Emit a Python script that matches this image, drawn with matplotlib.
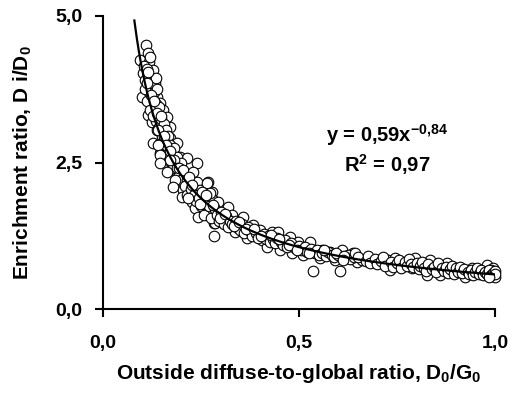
import matplotlib
matplotlib.use("Agg")
import matplotlib.pyplot as plt
import numpy as np

plt.rcParams['font.family'] = ['Liberation Sans', 'DejaVu Sans']
plt.rcParams['font.weight'] = 'bold'
plt.rcParams['mathtext.fontset'] = 'custom'
plt.rcParams['mathtext.rm'] = 'Liberation Sans:bold'
plt.rcParams['mathtext.bf'] = 'Liberation Sans:bold'
plt.rcParams['mathtext.it'] = 'Liberation Sans:bold'
plt.rcParams['mathtext.default'] = 'rm'

# ---- data ----
x_steep = [0.110, 0.115, 0.094, 0.117, 0.128, 0.102, 0.115, 0.133, 0.120, 0.099,
           0.138, 0.125, 0.145, 0.128, 0.153, 0.115, 0.140, 0.125, 0.163, 0.150,
           0.171, 0.138, 0.153, 0.128, 0.145, 0.171, 0.189, 0.145, 0.163, 0.179,
           0.196, 0.214, 0.105, 0.108, 0.112, 0.118, 0.122, 0.124, 0.130, 0.132,
           0.135, 0.136, 0.142, 0.143, 0.147, 0.150, 0.155, 0.157, 0.160, 0.158,
           0.165, 0.167, 0.168, 0.172, 0.175, 0.177, 0.182, 0.185, 0.186, 0.190,
           0.193, 0.198, 0.200, 0.113, 0.119, 0.107, 0.121, 0.126, 0.134, 0.139,
           0.111, 0.116, 0.123, 0.127, 0.131, 0.137, 0.141, 0.148, 0.152, 0.156,
           0.161, 0.166, 0.170, 0.174, 0.178, 0.181, 0.188, 0.192, 0.195, 0.199]
y_steep = [4.50, 4.37, 4.25, 4.22, 4.08, 4.03, 3.96, 3.86, 3.79, 3.62,
           3.62, 3.57, 3.52, 3.45, 3.40, 3.31, 3.31, 3.19, 3.28, 3.17,
           3.11, 3.05, 3.00, 2.83, 2.83, 2.92, 2.83, 2.66, 2.66, 2.68,
           2.59, 2.58, 4.15, 3.90, 4.10, 3.70, 3.95, 3.60, 3.70, 3.40,
           3.50, 3.20, 3.45, 3.10, 3.25, 2.95, 3.15, 2.80, 3.05, 2.90,
           2.95, 2.75, 2.55, 2.80, 2.45, 2.65, 2.75, 2.50, 2.35, 2.60,
           2.45, 2.30, 2.50, 3.55, 3.40, 3.75, 4.30, 3.85, 3.95, 3.75,
           3.85, 4.05, 3.65, 3.30, 3.55, 3.35, 3.05, 3.30, 2.85, 2.95,
           2.80, 2.60, 2.70, 2.55, 2.40, 2.55, 2.40, 2.25, 2.40, 2.20]

x_mid = [0.140, 0.145, 0.171, 0.240, 0.145, 0.163, 0.204, 0.230, 0.184, 0.214,
         0.240, 0.268, 0.179, 0.204, 0.247, 0.278, 0.201, 0.227, 0.255, 0.281,
         0.235, 0.265, 0.242, 0.273, 0.283, 0.283, 0.265, 0.273, 0.293, 0.265,
         0.319, 0.329, 0.286, 0.306, 0.357, 0.383, 0.337, 0.367, 0.406, 0.431,
         0.446, 0.418, 0.452, 0.477, 0.497, 0.528, 0.482, 0.510, 0.559, 0.579,
         0.610, 0.554, 0.592, 0.638, 0.648, 0.536, 0.605,
         0.210, 0.220, 0.215, 0.225, 0.232, 0.238, 0.245, 0.250, 0.252, 0.258,
         0.260, 0.270, 0.275, 0.285, 0.290, 0.295, 0.300, 0.310, 0.315, 0.320,
         0.325, 0.330, 0.340, 0.345, 0.350, 0.355, 0.360, 0.370, 0.375, 0.380,
         0.390, 0.395, 0.400, 0.410, 0.415, 0.420, 0.425, 0.435, 0.440, 0.445,
         0.455, 0.460, 0.465, 0.470, 0.480, 0.490, 0.500, 0.505, 0.515, 0.520,
         0.530, 0.540, 0.545, 0.550, 0.560, 0.570, 0.575, 0.585, 0.590, 0.600,
         0.620, 0.625, 0.630, 0.640,
         0.218, 0.228, 0.248, 0.262, 0.280, 0.298, 0.312, 0.335, 0.348, 0.365,
         0.385, 0.402, 0.428, 0.450, 0.475, 0.495, 0.525, 0.565, 0.595, 0.615]
y_mid = [2.80, 2.63, 2.54, 2.49, 2.49, 2.34, 2.37, 2.34, 2.20, 2.20,
         2.17, 2.17, 2.08, 2.03, 2.03, 2.00, 1.91, 1.83, 1.86, 1.86,
         1.72, 1.69, 1.57, 1.64, 1.47, 1.25, 2.15, 1.98, 1.83, 1.66,
         1.74, 1.60, 1.47, 1.52, 1.57, 1.43, 1.31, 1.21, 1.18, 1.31,
         1.31, 1.06, 1.01, 1.23, 1.14, 1.14, 0.96, 0.92, 1.01, 0.97,
         1.01, 0.87, 0.84, 0.96, 0.80, 0.65, 0.65,
         2.10, 2.25, 1.95, 2.05, 1.95, 1.85, 1.90, 1.75, 2.00, 1.60,
         1.80, 1.75, 1.55, 1.70, 1.60, 1.50, 1.65, 1.45, 1.58, 1.40,
         1.50, 1.45, 1.50, 1.38, 1.35, 1.45, 1.30, 1.40, 1.33, 1.25,
         1.30, 1.22, 1.35, 1.28, 1.20, 1.25, 1.15, 1.20, 1.12, 1.22,
         1.15, 1.10, 1.18, 1.05, 1.12, 1.04, 1.08, 1.00, 1.05, 0.98,
         1.02, 0.95, 1.00, 0.93, 0.95, 0.90, 0.98, 0.92, 0.88, 0.93,
         0.88, 0.93, 0.85, 0.88,
         1.90, 2.12, 1.80, 1.95, 1.78, 1.55, 1.62, 1.42, 1.48, 1.36,
         1.36, 1.24, 1.26, 1.20, 1.10, 1.00, 0.96, 1.00, 0.95, 0.90]

x_tail = [0.612, 0.643, 0.660, 0.689, 0.727, 0.745, 0.732, 0.765, 0.796, 0.788,
          0.834, 0.852, 0.827, 0.860, 0.878, 0.898, 0.923, 0.941, 0.980, 0.992,
          1.000, 0.995, 0.990,
          0.650, 0.670, 0.675, 0.680, 0.695, 0.700, 0.710, 0.715, 0.720, 0.735,
          0.740, 0.750, 0.755, 0.760, 0.770, 0.775, 0.780, 0.785, 0.790, 0.800,
          0.805, 0.810, 0.815, 0.820, 0.825, 0.830, 0.840, 0.845, 0.850, 0.855,
          0.865, 0.870, 0.875, 0.880, 0.885, 0.890, 0.895, 0.900, 0.905, 0.910,
          0.915, 0.920, 0.930, 0.935, 0.940, 0.945, 0.950, 0.955, 0.960, 0.965,
          0.970, 0.975, 0.980, 0.985, 0.990, 0.995, 1.000, 1.000, 0.985]
y_tail = [0.84, 0.96, 0.84, 0.80, 0.84, 0.87, 0.67, 0.78, 0.87, 0.70,
          0.84, 0.75, 0.58, 0.58, 0.78, 0.67, 0.55, 0.70, 0.75, 0.63,
          0.55, 0.70, 0.67,
          0.88, 0.82, 0.90, 0.78, 0.85, 0.76, 0.82, 0.88, 0.74, 0.80,
          0.72, 0.78, 0.83, 0.70, 0.80, 0.74, 0.85, 0.76, 0.72, 0.78,
          0.68, 0.74, 0.80, 0.70, 0.65, 0.76, 0.68, 0.72, 0.64, 0.79,
          0.70, 0.65, 0.72, 0.62, 0.68, 0.74, 0.60, 0.70, 0.64, 0.72,
          0.62, 0.68, 0.64, 0.60, 0.66, 0.58, 0.64, 0.70, 0.60, 0.66,
          0.58, 0.63, 0.60, 0.66, 0.58, 0.62, 0.65, 0.60, 0.55]

# power-law trendline shown on the chart: y = 0.59 x^-0.84
fit_a = 0.59
fit_b = -0.84
fit_xrange = [0.08, 1.0]

x_ticks = [0.0, 0.5, 1.0]
x_ticklabels = ['0,0', '0,5', '1,0']
y_ticks = [0.0, 2.5, 5.0]
y_ticklabels = ['0,0', '2,5', '5,0']

# ---- figure ----
fig = plt.figure(figsize=(5.16, 3.94), dpi=100)
ax = fig.add_axes([0.1996, 0.2157, 0.7596, 0.7437])

xs = np.concatenate([x_steep, x_mid, x_tail])
ys = np.concatenate([y_steep, y_mid, y_tail])
ax.scatter(xs, ys, s=58, facecolors='white', edgecolors='black',
           linewidths=0.8, zorder=2, clip_on=False)

xf = np.linspace(fit_xrange[0], fit_xrange[1], 300)
ax.plot(xf, fit_a * xf ** fit_b, color='black', lw=1.6, zorder=3)

ax.set_xlim(0, 1.0)
ax.set_ylim(0, 5.0)
ax.set_xticks(x_ticks)
ax.set_xticklabels(x_ticklabels)
ax.set_yticks(y_ticks)
ax.set_yticklabels(y_ticklabels)
ax.tick_params(direction='out', length=6, width=1.5, labelsize=14)
ax.tick_params(axis='x', pad=13)
ax.tick_params(axis='y', pad=9)
for lab in ax.get_xticklabels() + ax.get_yticklabels():
    lab.set_fontweight('bold')

for s in ['top', 'right']:
    ax.spines[s].set_visible(False)
for s in ['left', 'bottom']:
    ax.spines[s].set_linewidth(1.5)

ax.set_xlabel('Outside diffuse-to-global ratio, D$_0$/G$_0$',
              fontsize=15, fontweight='bold', labelpad=7)
ax.set_ylabel('Enrichment ratio, D i/D$_0$',
              fontsize=15, fontweight='bold', labelpad=15)

ax.text(0.725, 2.97, 'y = 0,59x$^{-0{,}84}$', ha='center', va='center',
        fontsize=14.5, fontweight='bold')
ax.text(0.725, 2.47, 'R$^2$ = 0,97', ha='center', va='center',
        fontsize=14.5, fontweight='bold')

fig.savefig('out.png', dpi=100, facecolor='white')
